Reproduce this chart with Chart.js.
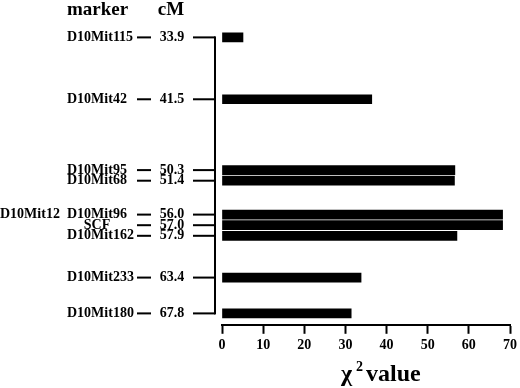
<!DOCTYPE html>
<html>
<head>
<meta charset="utf-8">
<script src="https://cdn.jsdelivr.net/npm/chart.js@4"></script>
<style>
  body { margin: 0; background: #fff; }
  #wrap { width: 520px; height: 388px; position: relative; }
</style>
</head>
<body>
<div id="wrap"><canvas id="mapChart"></canvas></div>
<script>
// markers along the chromosome, their map position (cM) and the chi-square value
const markers = ["D10Mit115", "D10Mit42", "D10Mit95", "D10Mit68", "D10Mit96", "SCF", "D10Mit162", "D10Mit233", "D10Mit180"];
const positionsCM = [33.9, 41.5, 50.3, 51.4, 56.0, 57.0, 57.9, 63.4, 67.8];
const chiSquare = [5.1, 36.4, 56.6, 56.5, 68.2, 68.2, 57.1, 33.8, 31.4];
// marker sharing a position with another one
const sharedMarkers = { D10Mit96: "D10Mit12" };
const xTickStep = 10;
const xMax = 70;

const serif = "'Liberation Serif', 'Times New Roman', serif";

// linear cM scale, but markers that sit too close are pushed apart
// (like a drawn genetic map) so the rows do not overlap
class ChromosomeScale extends Chart.LinearScale {
  configure() {
    super.configure();
    this._spread = null;
  }

  spreadPixels() {
    if (this._spread) {
      return this._spread;
    }
    const gap = this.options.minGap || 0;
    const anchors = this.options.anchors || [];
    const groups = [];

    anchors.forEach((v) => {
      groups.push({ sum: super.getPixelForValue(v), n: 1 });
      while (groups.length > 1) {
        const b = groups[groups.length - 1];
        const a = groups[groups.length - 2];
        const aEnd = a.sum / a.n + (a.n - 1) * gap / 2;
        const bStart = b.sum / b.n - (b.n - 1) * gap / 2;
        if (bStart - aEnd >= gap) {
          break;
        }
        groups.pop();
        a.sum += b.sum;
        a.n += b.n;
      }
    });

    const out = [];
    groups.forEach((g) => {
      const c = g.sum / g.n;
      for (let k = 0; k < g.n; k++) {
        out.push(c + (k - (g.n - 1) / 2) * gap);
      }
    });
    this._spread = out;
    return out;
  }

  getPixelForValue(value) {
    const anchors = this.options.anchors || [];
    if (value === null || value === undefined || !anchors.length) {
      return super.getPixelForValue(value);
    }
    const spread = this.spreadPixels();
    const last = anchors.length - 1;
    if (value <= anchors[0]) {
      return spread[0] + super.getPixelForValue(value) - super.getPixelForValue(anchors[0]);
    }
    if (value >= anchors[last]) {
      return spread[last] + super.getPixelForValue(value) - super.getPixelForValue(anchors[last]);
    }
    for (let i = 0; i < last; i++) {
      if (value <= anchors[i + 1]) {
        const t = (value - anchors[i]) / (anchors[i + 1] - anchors[i] || 1);
        return spread[i] + t * (spread[i + 1] - spread[i]);
      }
    }
    return super.getPixelForValue(value);
  }
}
ChromosomeScale.id = "chromosome";
ChromosomeScale.defaults = Chart.LinearScale.defaults;
Chart.register(ChromosomeScale);

const mapLabels = {
  id: "mapLabels",
  afterDraw(chart) {
    const ctx = chart.ctx;
    const yScale = chart.scales.y;
    ctx.save();
    ctx.fillStyle = "#000";

    // headers
    ctx.font = "bold 19px " + serif;
    ctx.textBaseline = "middle";
    ctx.textAlign = "left";
    ctx.fillText("marker", 67, 10);
    ctx.textAlign = "center";
    ctx.fillText("cM", 171, 10);

    ctx.font = "bold 14px " + serif;
    const ys = positionsCM.map((v) => yScale.getPixelForValue(v));

    markers.forEach((name, i) => {
      const y = ys[i];
      if (name === "SCF") {
        ctx.textAlign = "center";
        ctx.fillText(name, 97, y);
      } else {
        ctx.textAlign = "left";
        ctx.fillText(name, 67, y);
      }
      if (sharedMarkers[name]) {
        ctx.textAlign = "left";
        ctx.fillText(sharedMarkers[name], 0, y);
      }
      ctx.fillRect(137, y - 1, 14, 2);
      ctx.textAlign = "center";
      ctx.fillText(positionsCM[i].toFixed(1), 172, y);
      ctx.fillRect(193, y - 1, 22, 2);
    });

    // chromosome line
    ctx.fillRect(214, ys[0] - 1, 2, ys[ys.length - 1] - ys[0] + 2);

    // axis title: chi squared value
    ctx.textAlign = "left";
    ctx.textBaseline = "alphabetic";
    ctx.font = "bold 24px " + serif;
    ctx.fillText("χ", 341, 381);
    ctx.font = "bold 14px " + serif;
    ctx.fillText("2", 356, 371);
    ctx.font = "bold 24px " + serif;
    ctx.fillText("value", 366, 381);
    ctx.restore();
  }
};

new Chart(document.getElementById("mapChart"), {
  type: "bar",
  data: {
    datasets: [{
      data: chiSquare.map((v, i) => ({ x: v, y: positionsCM[i] })),
      backgroundColor: "#000",
      borderWidth: 0,
      barThickness: 9
    }]
  },
  options: {
    indexAxis: "y",
    responsive: true,
    maintainAspectRatio: false,
    animation: false,
    layout: { padding: { left: 222, right: 7.5, top: 19, bottom: 31.4 } },
    plugins: {
      legend: { display: false },
      tooltip: { enabled: false }
    },
    scales: {
      y: {
        type: "chromosome",
        display: false,
        reverse: true,
        offset: false,
        min: 31.64,
        max: 69.2,
        anchors: positionsCM,
        minGap: 10.6
      },
      x: {
        type: "linear",
        min: 0,
        max: xMax,
        border: { display: true, color: "#000", width: 2 },
        grid: {
          display: true,
          drawOnChartArea: false,
          drawTicks: true,
          tickLength: 9,
          tickWidth: 2,
          tickColor: "#000"
        },
        ticks: {
          stepSize: xTickStep,
          padding: 3,
          color: "#000",
          font: { family: serif, size: 14, weight: "bold" }
        }
      }
    }
  },
  plugins: [mapLabels]
});
</script>
</body>
</html>
